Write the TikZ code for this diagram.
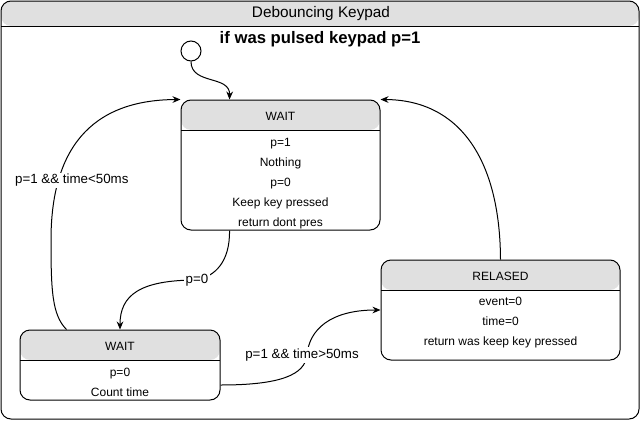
\documentclass[tikz,border=0pt]{standalone}
\usepackage{fontspec}
\setmainfont{Liberation Sans}
\usetikzlibrary{arrows.meta}
\definecolor{kpHead}{HTML}{E0E0E0}

\begin{document}
\begin{tikzpicture}[x=0.75pt,y=-0.75pt,line width=0.75pt,
    outerbox/.style={draw=black,rounded corners=7.5pt,inner sep=0pt,
                 minimum width=478.5pt,minimum height=313.5pt,
                 path picture={\fill[kpHead] (path picture bounding box.north west) rectangle ([yshift=-18.75pt]path picture bounding box.north east);
                   \draw ([yshift=-18.75pt]path picture bounding box.north west) -- ([yshift=-18.75pt]path picture bounding box.north east);}},
    stbox/.style={draw=black,rounded corners=7.5pt,inner sep=0pt,
                 path picture={\fill[kpHead] (path picture bounding box.north west) rectangle ([yshift=-22.5pt]path picture bounding box.north east);
                   \draw ([yshift=-22.5pt]path picture bounding box.north west) -- ([yshift=-22.5pt]path picture bounding box.north east);}},
    init/.style={circle,draw=black,fill=white,minimum size=15pt,inner sep=0pt},
    title/.style={font=\fontsize{11.5}{13}\selectfont,inner sep=0pt},
    note/.style={font=\fontsize{12.5}{14}\selectfont\bfseries,inner sep=0pt},
    hd/.style={font=\fontsize{9}{11}\selectfont,inner sep=0pt},
    rows/.style={font=\fontsize{9}{15}\selectfont,align=center,inner sep=0pt},
    lbl/.style={fill=white,font=\fontsize{10}{12}\selectfont,inner sep=1pt},
    arr/.style={-{Stealth[length=6pt,width=5pt]},line width=0.75pt}]

  \useasboundingbox (0,0) rectangle (641,421);

  % frame and headline
  \node[outerbox] (box) at (320,210) {};
  \node[title] (boxT) at (321,14) {Debouncing Keypad};
  \node[note] (cond) at (320,39) {if was pulsed keypad p=1};

  % states
  \node[init] (start) at (191,51) {};
  \node[stbox,minimum width=149.25pt,minimum height=97.5pt] (waitA) at (280.5,165) {};
  \node[stbox,minimum width=150pt,minimum height=52.5pt] (waitB) at (120,365) {};
  \node[stbox,minimum width=179.25pt,minimum height=75pt] (rel) at (500.5,310) {};

  \node[hd] (waitAT) at (280.5,116.5) {WAIT};
  \node[rows] (waitAB) at (280.5,183.5) {p=1\\Nothing\\p=0\\Keep key pressed\\return dont pres};
  \node[hd] (waitBT) at (120,346.5) {WAIT};
  \node[rows] (waitBB) at (120,382.5) {p=0\\Count time};
  \node[hd] (relT) at (500.5,276.5) {RELASED};
  \node[rows] (relB) at (500.5,322.5) {event=0\\time=0\\return was keep key pressed};

  % transitions
  \draw[arr] (start.south) .. controls (191,85) and (230,75) .. ([xshift=36.75pt]waitA.north west);
  \draw[arr] ([xshift=36.75pt]waitA.south west) .. controls (230,262) and (215,276) .. (197,280)
    node[lbl] {p=0} .. controls (140,280) and (120,295) .. (waitB.north);
  \draw[arr] ([xshift=35.25pt]waitB.north west) .. controls (52,315) and (51,290) .. (51,240)
    .. controls (51,150) and (90,100) .. (waitA.north west)
    node[lbl,pos=0.25,xshift=10pt] {p=1 \&\& time<50ms};
  \draw[arr] ([yshift=-15pt]waitB.east) .. controls (280,385) and (305,375) .. (307,355)
    node[lbl,xshift=-3.75pt] {p=1 \&\& time>50ms} .. controls (309,330) and (330,310) .. (rel.west);
  \draw[arr] (rel.north) .. controls (500,160) and (460,100) .. (waitA.north east);
\end{tikzpicture}
\end{document}
